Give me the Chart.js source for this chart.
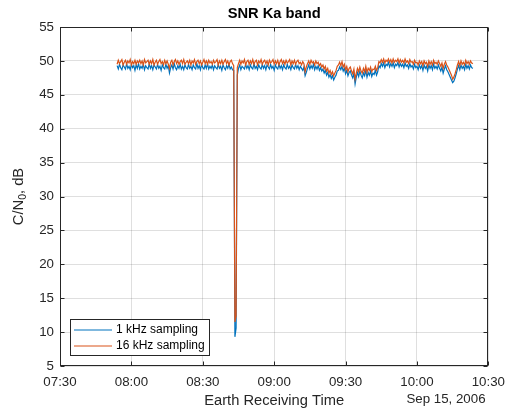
<!DOCTYPE html>
<html>
<head>
<meta charset="utf-8">
<title>SNR Ka band</title>
<script src="https://cdn.jsdelivr.net/npm/chart.js@4.4.0/dist/chart.umd.min.js"></script>
<style>
  html, body { margin: 0; padding: 0; background: #fff; }
</style>
</head>
<body>
<canvas id="snr" width="513" height="412"></canvas>
<script>
// ─── data ───
// C/N0 in dB, one sample every 30 s, time in minutes since midnight (07:54 … 10:23:30)
// each row covers ten minutes
const firstMinute = 474;
const stepMinutes = 0.5;
const blueValues = [
  49.3, 48.8, 49.5, 49.0, 48.7, 49.4, 49.1, 48.8, 49.6, 48.9, 49.2, 48.7, 49.5, 49.0, 49.3, 48.6, 49.4, 48.9, 49.6, 48.8,
  49.2, 48.9, 49.5, 48.7, 49.3, 49.0, 48.8, 49.6, 48.9, 49.3, 48.7, 49.4, 49.1, 48.8, 49.5, 48.9, 49.2, 48.6, 49.4, 49.0,
  48.8, 49.5, 48.9, 49.3, 48.2, 49.0, 49.4, 48.8, 49.6, 49.0, 48.7, 49.3, 48.9, 49.5, 48.8, 49.2, 48.7, 49.4, 49.0, 48.8,
  49.5, 48.9, 49.2, 48.7, 49.4, 49.0, 48.8, 49.6, 48.9, 49.3, 48.7, 49.5, 49.0, 48.8, 49.4, 48.9, 49.6, 48.8, 49.2, 48.9,
  49.4, 48.7, 49.3, 49.0, 48.8, 49.5, 48.9, 49.2, 48.6, 49.4, 49.0, 48.7, 49.3, 48.9, 49.5, 48.8, 49.1, 48.7, 48.6, 9.3,
  10.6, 47.9, 48.9, 49.4, 48.7, 49.2, 49.0, 48.8, 49.5, 48.9, 49.3, 48.7, 49.4, 49.0, 48.8, 49.6, 48.9, 49.2, 48.7, 49.4,
  49.0, 48.8, 49.5, 48.9, 49.3, 48.7, 49.4, 49.1, 48.8, 49.5, 48.9, 49.2, 48.6, 49.4, 49.0, 48.8, 49.5, 48.9, 49.3, 48.7,
  49.4, 49.0, 48.8, 49.5, 48.9, 49.2, 48.7, 49.4, 49.0, 48.8, 49.5, 48.9, 49.3, 48.7, 49.2, 48.9, 48.6, 49.1, 47.8, 48.3,
  48.9, 49.4, 48.8, 49.3, 48.9, 49.5, 48.7, 49.2, 48.8, 49.3, 48.6, 49.0, 48.5, 48.8, 48.2, 48.6, 47.9, 48.3, 47.6, 48.0,
  47.4, 47.8, 47.2, 47.6, 47.9, 48.5, 48.6, 49.1, 48.7, 49.2, 48.5, 48.9, 48.1, 48.6, 47.8, 48.3, 48.5, 47.9, 47.5, 48.2,
  46.6, 47.6, 48.3, 47.7, 48.5, 47.9, 47.5, 48.2, 47.8, 48.6, 47.6, 48.3, 47.9, 48.5, 47.7, 48.2, 48.0, 48.6, 47.9, 48.4,
  49.3, 49.0, 49.6, 49.2, 49.7, 49.0, 49.5, 49.3, 49.8, 49.1, 49.6, 49.2, 49.7, 49.0, 49.5, 49.3, 49.8, 49.1, 49.6, 49.2,
  49.5, 49.0, 49.7, 49.2, 49.4, 48.9, 49.6, 49.1, 49.3, 48.8, 49.5, 49.0, 49.2, 48.7, 49.4, 48.9, 49.3, 48.6, 49.4, 48.9,
  49.2, 48.5, 49.4, 48.9, 49.3, 48.7, 49.5, 48.9, 49.2, 48.8, 49.4, 48.9, 48.5, 49.1, 48.2, 48.8, 49.3, 48.7, 48.4, 48.0,
  47.6, 47.2, 46.8, 47.0, 47.5, 48.1, 48.8, 49.3, 48.7, 49.4, 48.9, 49.2, 48.7, 49.5, 48.9, 49.3, 48.8, 49.4, 49.0, 48.9
];
const orangeValues = [
  49.5, 50.1, 49.6, 49.9, 50.2, 49.4, 49.8, 50.1, 49.5, 50.0, 49.7, 50.2, 49.4, 49.9, 49.6, 50.1, 49.5, 50.0, 49.7, 50.1,
  49.6, 50.0, 49.4, 50.2, 49.7, 49.9, 50.1, 49.5, 50.0, 49.6, 50.2, 49.4, 49.8, 50.1, 49.5, 49.9, 50.2, 49.6, 49.9, 49.4,
  50.1, 49.6, 50.0, 49.5, 48.9, 49.8, 50.1, 49.4, 49.9, 50.2, 49.6, 50.0, 49.5, 49.9, 50.1, 49.6, 50.2, 49.5, 49.8, 50.0,
  49.6, 50.1, 49.4, 50.0, 49.7, 50.2, 49.5, 49.9, 50.1, 49.6, 50.0, 49.4, 49.8, 50.2, 49.6, 50.0, 49.5, 50.1, 49.7, 49.9,
  49.5, 50.1, 49.7, 49.9, 50.2, 49.4, 50.0, 49.6, 50.1, 49.5, 49.9, 50.2, 49.6, 50.0, 49.4, 49.9, 50.1, 49.6, 49.3, 11.5,
  12.4, 49.0, 49.6, 50.1, 49.5, 50.0, 49.7, 50.2, 49.4, 49.9, 50.1, 49.5, 50.0, 49.6, 50.2, 49.5, 49.9, 50.1, 49.4, 50.0,
  49.7, 50.2, 49.5, 49.9, 50.1, 49.6, 50.0, 49.4, 50.1, 49.7, 49.9, 50.2, 49.5, 50.0, 49.6, 50.1, 49.4, 49.9, 50.2, 49.6,
  50.0, 49.5, 50.1, 49.7, 49.9, 50.2, 49.4, 50.0, 49.6, 50.1, 49.5, 49.9, 50.1, 49.6, 49.8, 49.4, 49.9, 49.6, 48.4, 49.1,
  49.6, 50.0, 49.5, 50.1, 49.7, 49.9, 49.4, 50.0, 49.6, 49.8, 49.3, 49.6, 49.1, 49.4, 48.8, 49.2, 48.5, 48.9, 48.2, 48.6,
  48.0, 48.4, 47.8, 48.2, 48.6, 49.2, 49.4, 49.8, 49.3, 49.9, 49.1, 49.5, 48.7, 49.2, 48.4, 48.9, 49.1, 48.5, 48.1, 48.8,
  47.3, 48.2, 48.9, 48.4, 49.1, 48.5, 48.2, 48.9, 48.4, 49.2, 48.3, 48.9, 48.6, 49.1, 48.4, 48.8, 48.7, 49.2, 48.6, 49.0,
  49.9, 49.7, 50.2, 49.8, 50.3, 49.7, 50.1, 49.9, 50.3, 49.8, 50.2, 49.7, 50.3, 49.8, 50.1, 49.9, 50.3, 49.7, 50.2, 49.8,
  50.1, 49.7, 50.3, 49.8, 50.0, 49.6, 50.2, 49.8, 49.9, 49.5, 50.1, 49.7, 49.8, 49.4, 50.0, 49.6, 49.9, 49.3, 50.0, 49.6,
  49.8, 49.2, 50.0, 49.5, 49.9, 49.4, 50.1, 49.6, 49.8, 49.5, 50.0, 49.6, 49.2, 49.7, 48.9, 49.5, 49.9, 49.4, 49.1, 48.7,
  48.3, 47.9, 47.3, 47.6, 48.1, 48.7, 49.4, 49.9, 49.3, 50.0, 49.5, 49.8, 49.4, 50.1, 49.6, 49.9, 49.5, 50.0, 49.7, 49.6
];

const seriesNames = ['1 kHz sampling', '16 kHz sampling'];
const xTicks = [450, 480, 510, 540, 570, 600, 630];   // 07:30 … 10:30
const yTicks = [5, 10, 15, 20, 25, 30, 35, 40, 45, 50, 55];

const BLUE = '#0072BD';
const ORANGE = '#D95319';
const INK = '#262626';
const FONT = "'Liberation Sans', Arial, Helvetica, sans-serif";

const toPoints = values => values.map((v, i) => ({ x: firstMinute + i * stepMinutes, y: v }));

function hhmm(m) {
  const h = Math.floor(m / 60), mm = Math.round(m % 60);
  return String(h).padStart(2, '0') + ':' + String(mm).padStart(2, '0');
}

// ─── decorations: box, inward ticks, titles, legend ───
const decor = {
  id: 'decor',
  afterDraw(chart) {
    const { ctx, chartArea: a, scales: { x, y } } = chart;
    const L = Math.round(a.left) + 0.5, R = Math.round(a.right) - 0.5;
    const T = Math.round(a.top) + 0.5, B = Math.round(a.bottom) - 0.5;
    ctx.save();
    ctx.strokeStyle = INK;
    ctx.lineWidth = 1;
    ctx.beginPath();
    xTicks.forEach(v => {
      const px = Math.round(x.getPixelForValue(v)) + 0.5;
      ctx.moveTo(px, B); ctx.lineTo(px, B - 4);
      ctx.moveTo(px, T); ctx.lineTo(px, T + 4);
    });
    yTicks.forEach(v => {
      const py = Math.round(y.getPixelForValue(v)) + 0.5;
      ctx.moveTo(L, py); ctx.lineTo(L + 4, py);
      ctx.moveTo(R, py); ctx.lineTo(R - 4, py);
    });
    ctx.stroke();
    ctx.strokeRect(L, T, R - L, B - T);

    // title
    ctx.fillStyle = '#000';
    ctx.textAlign = 'center';
    ctx.textBaseline = 'middle';
    ctx.font = 'bold 14.7px ' + FONT;
    ctx.fillText('SNR Ka band', (a.left + a.right) / 2, 14);

    // x label and date
    ctx.fillStyle = INK;
    ctx.font = '14.7px ' + FONT;
    ctx.fillText('Earth Receiving Time', (a.left + a.right) / 2, 401);
    ctx.font = '13.3px ' + FONT;
    ctx.fillText('Sep 15, 2006', 446, 399);

    // y label with subscript
    ctx.save();
    ctx.translate(19, (a.top + a.bottom) / 2);
    ctx.rotate(-Math.PI / 2);
    ctx.textAlign = 'left';
    const p1 = 'C/N', p3 = ', dB';
    ctx.font = '14.7px ' + FONT;
    const w1 = ctx.measureText(p1).width, w3 = ctx.measureText(p3).width;
    ctx.font = '10.5px ' + FONT;
    const w2 = ctx.measureText('0').width;
    const sx = -(w1 + w2 + w3) / 2;
    ctx.font = '14.7px ' + FONT;
    ctx.fillText(p1, sx, 0);
    ctx.font = '10.5px ' + FONT;
    ctx.fillText('0', sx + w1, 4);
    ctx.font = '14.7px ' + FONT;
    ctx.fillText(p3, sx + w1 + w2, 0);
    ctx.restore();

    // legend box
    const lx = 70.5, ly = 319.5, lw = 139, lh = 36;
    ctx.fillStyle = '#fff';
    ctx.fillRect(lx, ly, lw, lh);
    ctx.strokeStyle = INK;
    ctx.strokeRect(lx, ly, lw, lh);
    ctx.font = '12px ' + FONT;
    ctx.textAlign = 'left';
    chart.data.datasets.forEach((ds, i) => {
      const ry = 330 + i * 16;
      ctx.strokeStyle = ds.borderColor;
      ctx.lineWidth = 1.2;
      ctx.beginPath();
      ctx.moveTo(74, ry); ctx.lineTo(112, ry);
      ctx.stroke();
      ctx.fillStyle = '#000';
      ctx.fillText(ds.label, 116, ry);
    });
    ctx.restore();
  }
};

new Chart(document.getElementById('snr'), {
  type: 'line',
  data: {
    datasets: [
      { label: seriesNames[0], data: toPoints(blueValues),
        borderColor: BLUE, borderWidth: 1.2, pointRadius: 0, tension: 0, order: 1 },
      { label: seriesNames[1], data: toPoints(orangeValues),
        borderColor: ORANGE, borderWidth: 1.2, pointRadius: 0, tension: 0, order: 0 }
    ]
  },
  options: {
    responsive: false,
    animation: false,
    layout: { padding: { top: 27, right: 22, left: 0, bottom: 0 } },
    plugins: { legend: { display: false }, title: { display: false }, tooltip: { enabled: false } },
    scales: {
      x: {
        type: 'linear', min: 450, max: 630,
        afterBuildTicks: s => { s.ticks = xTicks.map(v => ({ value: v })); },
        afterFit: s => { s.height = 46; },
        grid: { color: 'rgba(38,38,38,0.15)', drawTicks: false },
        border: { display: false },
        ticks: { callback: v => hhmm(v), color: INK, padding: 8, maxRotation: 0,
                 font: { family: FONT, size: 13.3 } }
      },
      y: {
        min: 5, max: 55,
        afterBuildTicks: s => { s.ticks = yTicks.map(v => ({ value: v })); },
        afterFit: s => { s.width = 60; },
        grid: { color: 'rgba(38,38,38,0.15)', drawTicks: false },
        border: { display: false },
        ticks: { color: INK, padding: 6, font: { family: FONT, size: 13.3 } }
      }
    }
  },
  plugins: [decor]
});
</script>
</body>
</html>
